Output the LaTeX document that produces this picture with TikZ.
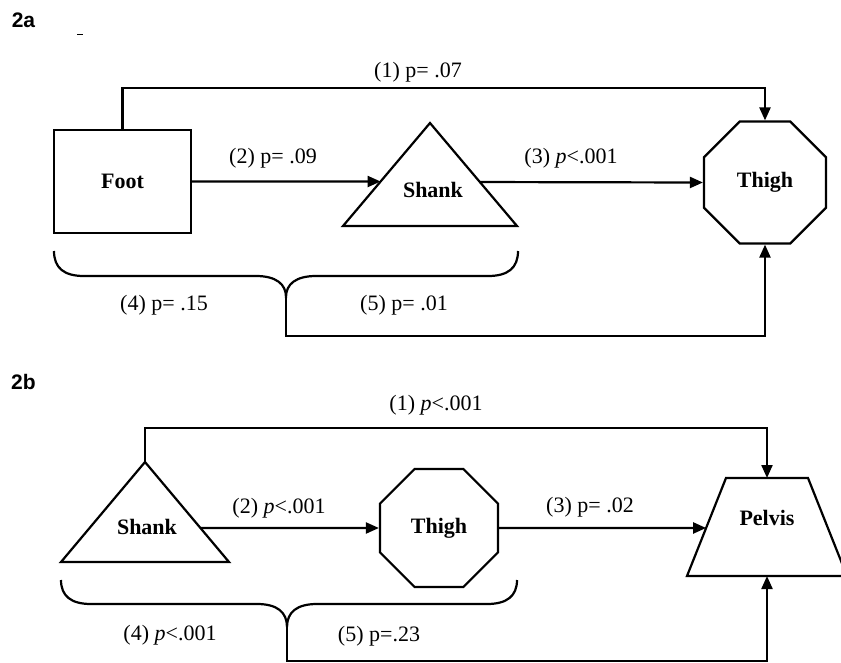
\documentclass[tikz,border=0pt]{standalone}
\usepackage{fontspec}
\setmainfont{Liberation Serif}
\newfontfamily\hdfont{Liberation Sans}
\usetikzlibrary{arrows.meta,shapes.geometric,calc}
\begin{document}
\begin{tikzpicture}[x=1pt,y=-1pt,
  ln/.style={line width=2.2pt},
  arr/.style={ln,-{Triangle[length=13pt,width=11pt]}},
  bx/.style={draw,ln,inner sep=0pt},
  lbl/.style={font=\fontsize{22}{24}\selectfont,inner sep=0pt},
  nm/.style={font=\fontsize{22}{24}\selectfont\bfseries,inner sep=0pt},
  ttl/.style={font=\hdfont\fontsize{21}{23}\selectfont\bfseries,inner sep=0pt},
  oct/.style={bx,regular polygon,regular polygon sides=8},
  ghost/.style={inner sep=0pt,outer sep=0pt}
]
\useasboundingbox (0,0) rectangle (841,662);

% ---------------- 2a ----------------
\node[ttl] (h2a) at (23.5,20) {2a};
\draw[line width=1pt] (77,34) -- (83,34);

\node[bx,minimum width=137pt,minimum height=103pt] (foot) at (122.5,181.5) {};
\node[nm] (footT) at (122.5,181.5) {Foot};

\node[ghost,minimum width=174pt,minimum height=103pt] (shankA) at (430,174.5) {};
\draw[ln,line join=miter] (shankA.south west) -- (shankA.north) -- (shankA.south east) -- cycle;
\node[nm] (shankAT) at (433,190) {Shank};

\node[oct,minimum size=132pt] (thighA) at (765,182.5) {};
\node[nm] (thighAT) at (765,182.5) {Thigh};

\coordinate (shAL) at ($(shankA.south west)!0.432!(shankA.north)$);
\coordinate (shAR) at ($(shankA.south east)!0.427!(shankA.north)$);
\coordinate (c1a) at (122.5,88);
\coordinate (tipA) at (286,297);
\coordinate (c5a) at (286,336);

\draw[arr] (foot.north) -- (c1a) -| (thighA.north);
\draw[arr] (foot.east) -- (shAL);
\draw[arr] (shAR) -- (thighA.west);
\draw[ln] (54,251) .. controls (54,268) and (64,276) .. (84,276) -- (256,276)
  .. controls (276,276) and (286,284) .. (tipA)
  .. controls (286,284) and (296,276) .. (316,276) -- (488,276)
  .. controls (508,276) and (518,268) .. (518,251);
\draw[arr] (tipA) -- (c5a) -| (thighA.south);

\node[lbl] (l1a) at (418,72) {(1) p= .07};
\node[lbl] (l2a) at (273,158) {(2) p= .09};
\node[lbl] (l3a) at (571,158) {(3) \textit{p}\textless.001};
\node[lbl] (l4a) at (164,305) {(4) p= .15};
\node[lbl] (l5a) at (404,305) {(5) p= .01};

% ---------------- 2b ----------------
\node[ttl] (h2b) at (23.5,382) {2b};

\node[ghost,minimum width=168pt,minimum height=100pt] (shankB) at (145,512) {};
\draw[ln,line join=miter] (shankB.south west) -- (shankB.north) -- (shankB.south east) -- cycle;
\node[nm] (shankBT) at (147,527) {Shank};

\node[oct,minimum size=127.7pt] (thighB) at (439,528) {};
\node[nm] (thighBT) at (439,528) {Thigh};

\node[ghost,minimum width=160pt,minimum height=98pt] (pelvis) at (767,527) {};
\draw[ln] (pelvis.south west) -- ($(pelvis.north)+(-41,0)$) -- ($(pelvis.north)+(41,0)$) -- (pelvis.south east) -- cycle;
\node[nm] (pelvisT) at (767,518) {Pelvis};

\coordinate (shBR) at ($(shankB.south east)!0.34!(shankB.north)$);
\coordinate (pvL) at ($(pelvis.south west)!0.49!($(pelvis.north)+(-41,0)$)$);
\coordinate (c1b) at (145,428);
\coordinate (tipB) at (287,627);
\coordinate (c5b) at (287,661);

\draw[arr] (shankB.north) -- (c1b) -| (pelvis.north);
\draw[arr] (shBR) -- (thighB.west);
\draw[arr] (thighB.east) -- (pvL);
\draw[ln] (61,580) .. controls (61,596) and (71,604) .. (91,604) -- (257,604)
  .. controls (277,604) and (287,612) .. (tipB)
  .. controls (287,612) and (297,604) .. (317,604) -- (487,604)
  .. controls (507,604) and (517,596) .. (517,580);
\draw[arr] (tipB) -- (c5b) -| (pelvis.south);

\node[lbl] (l1b) at (436,405) {(1) \textit{p}\textless.001};
\node[lbl] (l2b) at (279,508) {(2) \textit{p}\textless.001};
\node[lbl] (l3b) at (590,507) {(3) p= .02};
\node[lbl] (l4b) at (170,635) {(4) \textit{p}\textless.001};
\node[lbl] (l5b) at (379,636) {(5) p=.23};
\end{tikzpicture}
\end{document}
